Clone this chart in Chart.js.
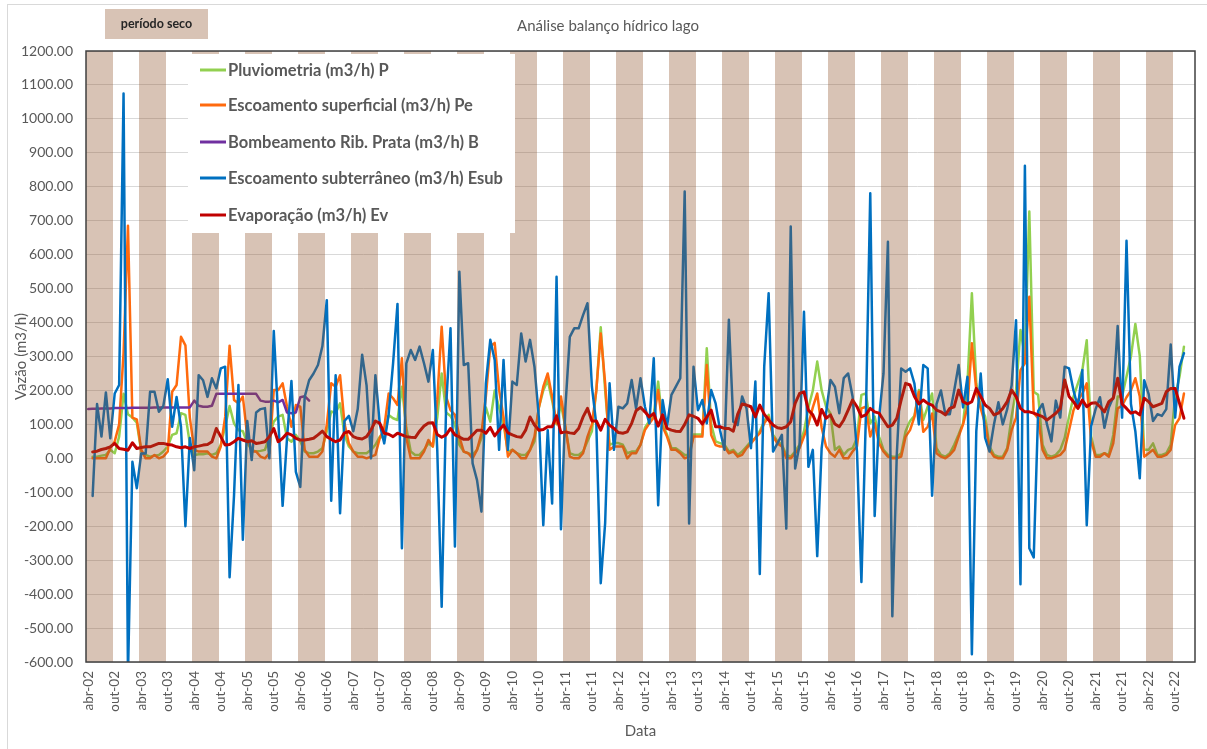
<!DOCTYPE html>
<html lang="pt">
<head>
<meta charset="utf-8">
<title>Análise balanço hídrico lago</title>
<script src="https://cdn.jsdelivr.net/npm/chart.js@4.4.1/dist/chart.umd.min.js"></script>
<style>
  html, body { margin: 0; padding: 0; background: #ffffff; }
  #wrap { position: relative; width: 1207px; height: 749px; overflow: hidden; }
  canvas { display: block; }
</style>
</head>
<body>
<div id="wrap"><canvas id="c" width="1207" height="749"></canvas></div>
<script>
// ---------- categories ----------
const monthNames = ['jan','fev','mar','abr','mai','jun','jul','ago','set','out','nov','dez'];
const dryMonths  = ['abr','mai','jun','jul','ago','set'];
const firstMonthIndex = 3;   // abr
const firstYear = 2;         // 2002
const monthCount = 251;      // abr-02 .. fev-23
const tickMonths = ['abr','out'];

// ---------- series values (m3/h), index 0 = abr-02 ----------
const pluviometria = [null,
  5,5,8,10,25,15,64,190,130,120,105,
  20,10,5,8,10,20,35,69,74,133,128,44,
  10,12,12,15,10,15,40,93,154,103,83,80,
  44,25,20,22,25,64,108,123,128,59,49,69,
  50,20,15,15,20,30,79,138,133,162,69,35,
  20,15,15,15,25,40,64,60,128,118,113,211,
  90,20,10,10,25,44,35,120,250,135,125,100,
  40,20,15,10,25,60,150,108,200,150,100,20,
  25,15,10,10,25,50,150,200,230,170,100,160,
  90,15,10,10,20,50,80,200,386,200,40,45,
  45,40,15,20,20,40,90,110,130,226,100,70,
  30,30,20,10,10,70,70,70,324,100,50,45,
  40,20,25,10,20,35,50,60,80,110,128,70,
  50,40,10,5,20,40,80,150,200,285,200,152,
  132,25,35,10,25,30,60,187,191,103,123,64,
  25,10,5,5,15,80,110,125,201,113,152,191,
  30,10,5,15,40,70,103,221,486,221,152,123,
  35,10,5,5,30,123,200,378,300,727,196,187,
  40,10,5,10,25,60,123,182,221,260,348,64,
  10,10,15,10,69,182,182,241,300,396,302,25,
  25,44,10,10,15,40,182,241,329];

const escoamentoSuperficial = [null,
  0,0,0,0,30,50,100,310,685,120,115,
  25,0,0,10,0,5,20,196,216,358,333,120,
  25,20,20,20,5,0,35,122,332,172,162,182,
  64,20,20,5,0,15,201,201,221,152,93,157,
  152,25,5,5,5,20,100,221,211,245,103,44,
  20,5,5,0,5,10,60,90,191,177,157,295,
  60,0,0,0,20,54,35,172,388,182,142,128,
  64,20,15,0,25,74,182,330,340,201,122,5,
  25,15,0,0,25,64,150,211,250,182,103,182,
  93,5,0,0,15,64,100,200,368,221,25,35,
  35,35,0,15,15,40,83,103,120,201,93,64,
  25,25,15,0,5,64,64,64,275,69,39,35,
  35,15,20,5,10,30,44,60,74,103,122,64,
  44,35,0,0,15,30,64,100,150,191,90,35,
  15,5,25,0,0,20,35,147,152,64,103,44,
  20,5,0,0,5,64,83,122,196,78,93,132,
  15,5,0,10,25,64,100,152,339,200,147,103,
  25,5,0,0,25,83,120,260,280,476,133,118,
  25,0,0,5,10,25,83,142,172,190,221,50,
  5,5,15,5,44,147,155,180,200,236,182,5,
  15,25,5,5,10,25,98,118,191];

const bombeamento = [
  145,146,146,147,147,147,148,148,148,148,149,149,
  149,149,149,150,150,150,150,150,150,150,150,150,
  170,155,152,152,155,190,190,190,190,190,190,190,
  190,190,190,170,167,167,170,165,172,135,133,135,
  180,183,170];

const escoamentoSubterraneo = [null,
  -111,160,64,194,59,191,216,1075,-640,-10,-88,
  14,14,196,196,137,154,233,93,181,93,-200,60,
  -35,245,230,181,236,206,265,270,-350,-110,216,-240,
  110,-5,135,145,148,0,375,120,-140,60,228,-40,
  -84,181,230,250,275,330,466,-125,245,-162,110,125,
  80,145,305,215,0,245,100,44,130,280,455,-265,
  280,319,290,329,280,226,319,25,-437,152,383,-260,
  550,275,280,-15,-64,-157,221,349,290,25,290,25,
  226,216,368,285,349,270,120,-197,83,-133,535,-209,
  150,358,383,383,422,457,211,100,-368,-190,221,25,
  152,147,162,231,147,236,152,103,295,-138,172,93,
  187,211,236,786,-192,270,142,172,103,201,162,83,
  25,408,108,98,182,147,30,226,-341,270,486,20,
  44,69,-207,683,-30,40,432,-25,25,-288,30,133,
  231,211,133,236,250,182,20,-364,120,781,-170,120,
  250,638,-465,10,265,255,265,220,100,275,265,-110,
  160,200,130,130,200,275,150,240,-577,80,250,60,
  20,100,165,100,145,215,407,-371,862,-265,-292,140,
  160,100,50,170,120,270,265,200,150,260,-197,95,
  145,180,90,150,180,390,120,641,160,80,-59,230,
  190,110,130,125,145,335,120,270,310];

const evaporacao = [null,
  19,21,26,29,34,44,29,27,24,46,29,
  32,34,34,39,44,44,41,39,34,31,34,29,
  34,36,39,41,49,88,64,39,41,49,59,54,
  49,52,44,46,49,64,88,49,59,74,69,59,
  54,54,56,59,69,80,64,56,49,54,75,79,
  64,59,57,64,83,110,103,74,71,64,74,69,
  64,62,61,80,95,104,105,70,62,69,88,69,
  63,56,56,69,83,83,74,91,66,83,98,75,
  69,64,62,83,122,98,83,85,93,93,125,75,
  78,75,73,88,122,147,110,110,83,115,98,88,
  76,74,78,103,140,150,137,122,132,95,128,88,
  83,80,79,100,128,124,118,101,122,142,93,93,
  88,88,80,130,160,157,152,122,157,130,113,98,
  90,88,93,108,162,191,196,142,128,98,144,118,
  128,101,93,113,142,172,152,123,128,147,137,133,
  113,93,98,118,172,221,216,182,160,172,162,157,
  142,137,128,147,152,201,167,160,167,206,182,157,
  147,128,133,147,167,201,182,147,137,137,133,128,
  123,113,123,133,147,231,182,167,147,172,152,162,
  164,152,137,167,177,236,160,147,133,137,128,177,
  167,152,157,162,196,206,206,162,118];

const yTicks = { min: -600, max: 1200, step: 100 };

// ---------- derived labels / dry season ----------
const labels = [];
for (let k = 0; k < monthCount; k++) {
  const m = (firstMonthIndex + k) % 12;
  const y = firstYear + Math.floor((firstMonthIndex + k) / 12);
  labels.push(monthNames[m] + '-' + String(y).padStart(2, '0'));
}
const periodoSeco = labels.map(l => dryMonths.includes(l.slice(0, 3)) ? [yTicks.min, yTicks.max] : null);

const FONT = 'Lato, "Open Sans", "DejaVu Sans", sans-serif';
const TEXT = '#595959';
const DRY_FILL = 'rgba(144,84,44,0.35)';

const series = [
  { label: 'Pluviometria (m3/h) P', data: pluviometria, color: '#92D050', width: 2.5, order: 5 },
  { label: 'Escoamento superficial (m3/h) Pe', data: escoamentoSuperficial, color: '#FF6A0E', width: 2.5, order: 4 },
  { label: 'Bombeamento Rib. Prata (m3/h) B', data: bombeamento, color: '#7030A0', width: 2.5, order: 3 },
  { label: 'Escoamento subterrâneo (m3/h) Esub', data: escoamentoSubterraneo, color: '#0070C0', width: 2.5, order: 2 },
  { label: 'Evaporação (m3/h) Ev', data: evaporacao, color: '#C00000', width: 3, order: 1 }
];

const datasets = series.map(s => ({
  type: 'line', label: s.label, data: s.data, borderColor: s.color, backgroundColor: s.color,
  borderWidth: s.width, pointRadius: 0, tension: 0, fill: false, order: s.order,
  borderJoinStyle: 'round', borderCapStyle: 'round', spanGaps: false
}));
// dry-season columns: geometry from Chart.js bar elements, painted merged (no seams) on top of the lines
datasets.push({
  type: 'bar', label: 'período seco', data: periodoSeco,
  backgroundColor: 'rgba(0,0,0,0)', borderWidth: 0,
  barPercentage: 1.0, categoryPercentage: 1.0, order: 0
});
const BAR_INDEX = datasets.length - 1;

const decorPlugin = {
  id: 'decor',
  afterDatasetsDraw(chart) {
    const { ctx, chartArea: a } = chart;
    const meta = chart.getDatasetMeta(BAR_INDEX);
    ctx.save();
    ctx.beginPath();
    ctx.rect(a.left, a.top, a.right - a.left, a.bottom - a.top);
    ctx.clip();
    ctx.fillStyle = DRY_FILL;
    let run = null;
    const flush = () => {
      if (!run) return;
      const l = Math.round(run.l), r = Math.round(run.r);
      ctx.fillRect(l, run.top, r - l, run.bot - run.top);
      run = null;
    };
    meta.data.forEach((el, k) => {
      if (!periodoSeco[k]) { flush(); return; }
      const p = el.getProps(['x', 'y', 'base', 'width'], true);
      const l = p.x - p.width / 2, r = p.x + p.width / 2;
      const top = Math.min(p.y, p.base), bot = Math.max(p.y, p.base);
      if (run && Math.abs(run.r - l) < 1.5) { run.r = r; }
      else { flush(); run = { l, r, top, bot }; }
    });
    flush();
    ctx.restore();

    ctx.save();
    ctx.strokeStyle = '#404040';
    ctx.lineWidth = 1.5;
    ctx.strokeRect(a.left, a.top, a.right - a.left, a.bottom - a.top);
    ctx.restore();
  },
  afterDraw(chart) {
    const { ctx } = chart;
    ctx.save();
    ctx.strokeStyle = '#D9D9D9';
    ctx.lineWidth = 1;
    ctx.strokeRect(7.5, 4.5, 1400, 900);
    ctx.fillStyle = TEXT;
    ctx.font = '15px ' + FONT;
    ctx.textAlign = 'center';
    ctx.textBaseline = 'middle';
    ctx.fillText('Análise balanço hídrico lago', 608, 26);
    ctx.fillStyle = 'rgb(216,195,181)';
    ctx.fillRect(105, 9, 103, 30);
    ctx.fillStyle = '#262626';
    ctx.font = 'bold 12.5px ' + FONT;
    ctx.fillText('período seco', 156.5, 24);
    ctx.fillStyle = '#ffffff';
    ctx.fillRect(188, 54, 327, 179);
    const ys = [70, 105, 142, 178, 215];
    ctx.textAlign = 'left';
    ctx.font = 'bold 16.5px ' + FONT;
    series.forEach((s, k) => {
      ctx.strokeStyle = s.color;
      ctx.lineWidth = 3;
      ctx.beginPath();
      ctx.moveTo(200, ys[k]);
      ctx.lineTo(226, ys[k]);
      ctx.stroke();
      ctx.fillStyle = TEXT;
      ctx.fillText(s.label, 228, ys[k] + 1);
    });
    ctx.restore();
  }
};

function build() {
  new Chart(document.getElementById('c'), {
    data: { labels, datasets },
    options: {
      responsive: false,
      animation: false,
      devicePixelRatio: 1,
      layout: { padding: { top: 51, right: 12, left: 0, bottom: 0 } },
      plugins: { legend: { display: false }, tooltip: { enabled: false }, title: { display: false } },
      scales: {
        x: {
          type: 'category', offset: true,
          grid: { display: false, drawTicks: false },
          border: { display: false },
          ticks: {
            autoSkip: false, minRotation: 90, maxRotation: 90, padding: 9,
            color: TEXT, font: { family: FONT, size: 13.5 },
            callback: function (v) {
              const l = this.getLabelForValue(v);
              return tickMonths.includes(l.slice(0, 3)) ? l : null;
            }
          },
          title: { display: true, text: 'Data', color: TEXT, font: { family: FONT, size: 15 }, padding: { top: 0, bottom: 9 } },
          afterFit(s) { s.height = 87; }
        },
        y: {
          min: yTicks.min, max: yTicks.max,
          grid: { color: '#D9D9D9', lineWidth: 1, drawTicks: false },
          border: { display: false },
          ticks: {
            stepSize: yTicks.step, padding: 13, color: TEXT, font: { family: FONT, size: 14 },
            callback: v => Number(v).toFixed(2)
          },
          title: { display: true, text: 'Vazão (m3/h)', color: TEXT, font: { family: FONT, size: 15 }, padding: { top: 12, bottom: 0 } },
          afterFit(s) { s.width = 86; }
        }
      }
    },
    plugins: [decorPlugin]
  });
}

if (document.fonts && document.fonts.load) {
  Promise.all([document.fonts.load('13px Lato'), document.fonts.load('bold 15px Lato')]).then(build, build);
} else { build(); }
</script>
</body>
</html>
